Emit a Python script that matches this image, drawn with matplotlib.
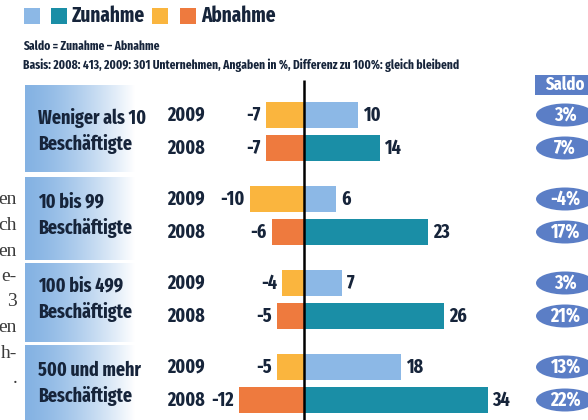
import numpy as np
import matplotlib
matplotlib.use("Agg")
import matplotlib.pyplot as plt
from matplotlib.patches import Rectangle, Ellipse
from matplotlib import font_manager as fm

# Values (Angaben in %)
categories   = ["Weniger als 10", "10 bis 99", "100 bis 499", "500 und mehr"]
categorySub  = "Beschäftigte"
years        = ["2009", "2008"]
zunahme2009  = [10, 6, 7, 18]
zunahme2008  = [14, 23, 26, 34]
abnahme2009  = [-7, -10, -4, -5]
abnahme2008  = [-7, -6, -5, -12]
saldo2009    = ["3%", "-4%", "3%", "13%"]
saldo2008    = ["7%", "17%", "21%", "22%"]
marginText   = ["en", "ch", "en", "e-", "3", "en", "h-", "."]  # cut-off body text of the magazine column

# Colours
lightBlue = "#8cb8e6"
teal      = "#1a8ea6"
yellow    = "#fab53e"
orange    = "#ee7a3e"
saldoBlue = "#5b7ec6"
navy      = "#16243a"

# pick a condensed font that is installed
installed = set(f.name for f in fm.fontManager.ttflist)
narrow = next((n for n in ["Fira Sans Extra Condensed", "Roboto Condensed", "PT Sans Narrow", "Liberation Sans Narrow"]
               if n in installed), "DejaVu Sans")
serif = next((n for n in ["Liberation Serif", "DejaVu Serif"] if n in installed), "serif")

W, H = 588, 420
fig = plt.figure(figsize=(W/100, H/100), dpi=100)

# layout axes in pixel units (legend, headers, label boxes)
lay = fig.add_axes([0, 0, 1, 1])
lay.axis("off")

# data axes: x in percent, y in rows (one unit = one pixel, 0 = first bar)
zeroPx, pxPerUnit, topRow = 304, 5.4, 115
ax = fig.add_axes([0, 0, 1, 1])
ax.set_xlim(-zeroPx/pxPerUnit, (W-zeroPx)/pxPerUnit)
ax.set_ylim(H-topRow, -topRow)
ax.axis("off")
ax.patch.set_alpha(0)

groupStep, rowStep, barHeight = 84, 33, 26
rows2009 = np.arange(len(categories))*groupStep
rows2008 = rows2009 + rowStep

# legend
for x0, col in [(24, lightBlue), (51, teal), (152, yellow), (180, orange)]:
    lay.add_patch(Rectangle((x0, 8), 16, 16, color=col, lw=0))
lay.text(72, 16, "Zunahme", fontsize=15, fontfamily=narrow, fontweight="bold", color=navy, va="center")
lay.text(201, 16, "Abnahme", fontsize=15, fontfamily=narrow, fontweight="bold", color=navy, va="center")
lay.text(23, 46, "Saldo = Zunahme – Abnahme", fontsize=9, fontfamily=narrow, fontweight="bold", color=navy, va="center")
lay.text(23, 65, "Basis: 2008: 413, 2009: 301 Unternehmen, Angaben in %, Differenz zu 100%: gleich bleibend",
         fontsize=9, fontfamily=narrow, fontweight="bold", color=navy, va="center")

# gradient boxes behind the category labels
grad = np.linspace(0, 1, 256)**1.4
left = np.array([0.52, 0.70, 0.89])
img = left[None, :]*(1-grad[:, None]) + np.ones(3)[None, :]*grad[:, None]
img = img[None, :, :]
for top, bottom in [(85, 172), (177, 260), (263, 342), (345, 420)]:
    lay.imshow(img, extent=[25, 135, bottom, top], aspect="auto", zorder=0)
lay.set_xlim(0, W)
lay.set_ylim(H, 0)

# margin text
for i, t in enumerate(marginText):
    lay.text(17, 200 + i*25.5, t, fontsize=14, fontfamily=serif, color="#3a3a3a", ha="right", va="center")

# bars
ax.barh(rows2009, zunahme2009, height=barHeight, color=lightBlue, lw=0)
ax.barh(rows2008, zunahme2008, height=barHeight, color=teal, lw=0)
ax.barh(rows2009, abnahme2009, height=barHeight, color=yellow, lw=0)
ax.barh(rows2008, abnahme2008, height=barHeight, color=orange, lw=0)
ax.plot([0, 0], [80-topRow, H-topRow], color="black", lw=1.8, solid_capstyle="butt")

labelStyle = dict(fontsize=14, fontfamily=narrow, fontweight="bold", color=navy, va="center")
labelX = (38-zeroPx)/pxPerUnit
yearX = (186-zeroPx)/pxPerUnit
saldoX = (565-zeroPx)/pxPerUnit
for i, cat in enumerate(categories):
    ax.text(labelX, rows2009[i]+3, cat, ha="left", **labelStyle)
    ax.text(labelX, rows2009[i]+29, categorySub, ha="left", **labelStyle)
    for row, year, pos, neg, saldo in [(rows2009[i], years[0], zunahme2009[i], abnahme2009[i], saldo2009[i]),
                                       (rows2008[i], years[1], zunahme2008[i], abnahme2008[i], saldo2008[i])]:
        ax.text(yearX, row, year, ha="center", **labelStyle)
        ax.annotate(str(pos), (pos, row), xytext=(3.5, 0), textcoords="offset points", ha="left", **labelStyle)
        ax.annotate(str(neg), (neg, row), xytext=(-4, 0), textcoords="offset points", ha="right", **labelStyle)
        ax.add_patch(Ellipse((saldoX, row), 58/pxPerUnit, 23, color=saldoBlue, lw=0))
        ax.text(saldoX, row, saldo, ha="center", va="center", fontsize=14, fontfamily=narrow,
                fontweight="bold", color="white")

# Saldo header
lay.add_patch(Rectangle((535, 75), 60, 20, color=saldoBlue, lw=0))
lay.text(565, 85, "Saldo", ha="center", va="center", fontsize=13, fontfamily=narrow, fontweight="bold", color="white")

fig.savefig("out.png", dpi=100)
